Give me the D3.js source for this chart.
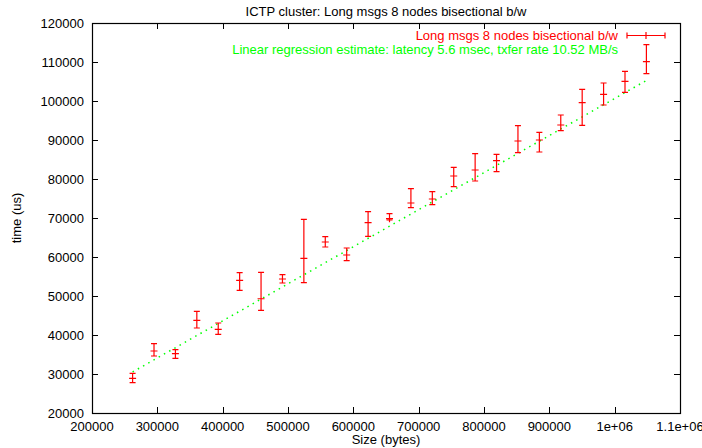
<!DOCTYPE html>
<html>
<head>
<meta charset="utf-8">
<script src="https://cdn.jsdelivr.net/npm/d3@7/dist/d3.min.js"></script>
<style>
  body { margin: 0; background: #fff; }
  text { font-family: "Liberation Sans", Arial, sans-serif; }
</style>
</head>
<body>
<div id="chart"></div>
<script>
// message size in bytes
var sizes = [262144, 294912, 327680, 360448, 393216, 425984, 458752, 491520,
             524288, 557056, 589824, 622592, 655360, 688128, 720896, 753664,
             786432, 819200, 851968, 884736, 917504, 950272, 983040, 1015808, 1048576];
// measured time (us): mean, low, high
var times  = [28900, 35900, 35200, 43770, 41460, 54020, 49300, 54360, 59660, 63850,
              60510, 68800, 69820, 73850, 74870, 80770, 82310, 84690, 89740, 90000,
              93850, 99570, 101710, 105050, 110080];
var timeLo = [27770, 34615, 34030, 41800, 40180, 51460, 46330, 53330, 53420, 62560,
              59050, 65300, 69490, 72640, 73410, 78030, 79490, 81870, 86740, 86920,
              92390, 93770, 98970, 102230, 107000];
var timeHi = [30180, 37770, 36230, 46080, 43080, 55970, 56080, 55470, 69660, 65210,
              62310, 71620, 71100, 77510, 76740, 83000, 86490, 86330, 93670, 91970,
              96410, 103000, 104620, 107610, 114440];
// regression estimate, read at first and last size
var regSizes = [262144, 1048576];
var regTimes = [30520, 105270];

var xTicks = [200000, 300000, 400000, 500000, 600000, 700000, 800000, 900000, 1000000, 1100000];
var xTickLabels = ["200000", "300000", "400000", "500000", "600000", "700000", "800000", "900000", "1e+06", "1.1e+06"];
var yTicks = [20000, 30000, 40000, 50000, 60000, 70000, 80000, 90000, 100000, 110000, 120000];

var W = 702, H = 448,
    margin = {top: 23, right: 22, bottom: 35, left: 92},
    w = W - margin.left - margin.right,
    h = H - margin.top - margin.bottom,
    red = "#ff0000",
    green = "#00ff00",
    fs = "13px",
    ticklen = 6;

var x = d3.scaleLinear().domain([200000, 1100000]).range([0, w]);
var y = d3.scaleLinear().domain([20000, 120000]).range([h, 0]);

var svg = d3.select("#chart").append("svg")
      .attr("width", W)
      .attr("height", H);

var vis = svg.append("g")
      .attr("transform", "translate(" + margin.left + "," + margin.top + ")");

/* Title */
svg.append("text")
  .attr("x", margin.left + w / 2)
  .attr("y", 15.5)
  .attr("text-anchor", "middle")
  .style("font-size", fs)
  .text("ICTP cluster: Long msgs 8 nodes bisectional b/w");

/* ticks, mirrored on all sides */
vis.selectAll(".xtick")
  .data(xTicks)
  .enter().append("path")
  .attr("class", "xtick")
  .attr("d", function(d) {
    var px = Math.round(x(d)) + 0.5;
    return "M" + px + "," + h + "V" + (h - ticklen) + "M" + px + ",0V" + ticklen;
  })
  .style("stroke", "#000")
  .style("fill", "none");

vis.selectAll(".ytick")
  .data(yTicks)
  .enter().append("path")
  .attr("class", "ytick")
  .attr("d", function(d) {
    var py = Math.round(y(d)) + 0.5;
    return "M0," + py + "H" + ticklen + "M" + w + "," + py + "H" + (w - ticklen);
  })
  .style("stroke", "#000")
  .style("fill", "none");

vis.selectAll(".xlabel")
  .data(xTicks)
  .enter().append("text")
  .attr("class", "xlabel")
  .attr("x", function(d) { return x(d); })
  .attr("y", h + 18)
  .attr("text-anchor", "middle")
  .style("font-size", fs)
  .text(function(d, i) { return xTickLabels[i]; });

vis.selectAll(".ylabel")
  .data(yTicks)
  .enter().append("text")
  .attr("class", "ylabel")
  .attr("x", -8)
  .attr("y", function(d) { return y(d); })
  .attr("dy", "0.35em")
  .attr("text-anchor", "end")
  .style("font-size", fs)
  .text(function(d) { return d; });

/* axis labels */
vis.append("text")
  .attr("x", w / 2)
  .attr("y", h + 30.5)
  .attr("text-anchor", "middle")
  .style("font-size", fs)
  .text("Size (bytes)");

vis.append("text")
  .attr("transform", "translate(" + (-margin.left + 21) + "," + (h / 2) + ") rotate(-90)")
  .attr("text-anchor", "middle")
  .style("font-size", fs)
  .text("time (us)");

/* regression line */
var regLine = d3.line()
      .x(function(d) { return x(d[0]); })
      .y(function(d) { return y(d[1]); });

vis.append("path")
  .datum(d3.zip(regSizes, regTimes))
  .attr("d", regLine)
  .style("fill", "none")
  .style("stroke", green)
  .style("stroke-width", 1.5)
  .style("stroke-dasharray", "1.5,4.5");

/* error bars */
var cap = 3, cross = 3.5;
var pts = sizes.map(function(s, i) {
  return {s: s, t: times[i], lo: timeLo[i], hi: timeHi[i]};
});

vis.selectAll(".ebar")
  .data(pts)
  .enter().append("path")
  .attr("class", "ebar")
  .attr("d", function(d) {
    var px = x(d.s), yl = y(d.lo), yh = y(d.hi), yc = y(d.t);
    return "M" + px + "," + yl + "V" + yh +
      "M" + (px - cap) + "," + yl + "H" + (px + cap) +
      "M" + (px - cap) + "," + yh + "H" + (px + cap) +
      "M" + (px - cross) + "," + yc + "H" + (px + cross) +
      "M" + px + "," + (yc - cross) + "V" + (yc + cross);
  })
  .style("fill", "none")
  .style("stroke", red)
  .style("stroke-width", 1.2);

/* frame */
vis.append("rect")
  .attr("x", 0.5)
  .attr("y", 0.5)
  .attr("width", w)
  .attr("height", h)
  .style("fill", "none")
  .style("stroke", "#000")
  .style("stroke-width", 1.2);

/* key */
var keyX = 618 - margin.left, keyY = 35.5 - margin.top;
vis.append("text")
  .attr("x", keyX)
  .attr("y", keyY)
  .attr("dy", "0.35em")
  .attr("text-anchor", "end")
  .style("font-size", fs)
  .style("fill", red)
  .text("Long msgs 8 nodes bisectional b/w");

var sx0 = keyX + 9, sx1 = keyX + 47, sxc = (sx0 + sx1) / 2;
vis.append("path")
  .attr("d", "M" + sx0 + "," + keyY + "H" + sx1 +
    "M" + sx0 + "," + (keyY - cap) + "V" + (keyY + cap) +
    "M" + sx1 + "," + (keyY - cap) + "V" + (keyY + cap) +
    "M" + sxc + "," + (keyY - cross) + "V" + (keyY + cross))
  .style("fill", "none")
  .style("stroke", red)
  .style("stroke-width", 1.2);

vis.append("text")
  .attr("x", keyX)
  .attr("y", keyY + 13.5)
  .attr("dy", "0.35em")
  .attr("text-anchor", "end")
  .style("font-size", fs)
  .style("fill", green)
  .text("Linear regression estimate: latency 5.6 msec, txfer rate 10.52 MB/s");
</script>
</body>
</html>
